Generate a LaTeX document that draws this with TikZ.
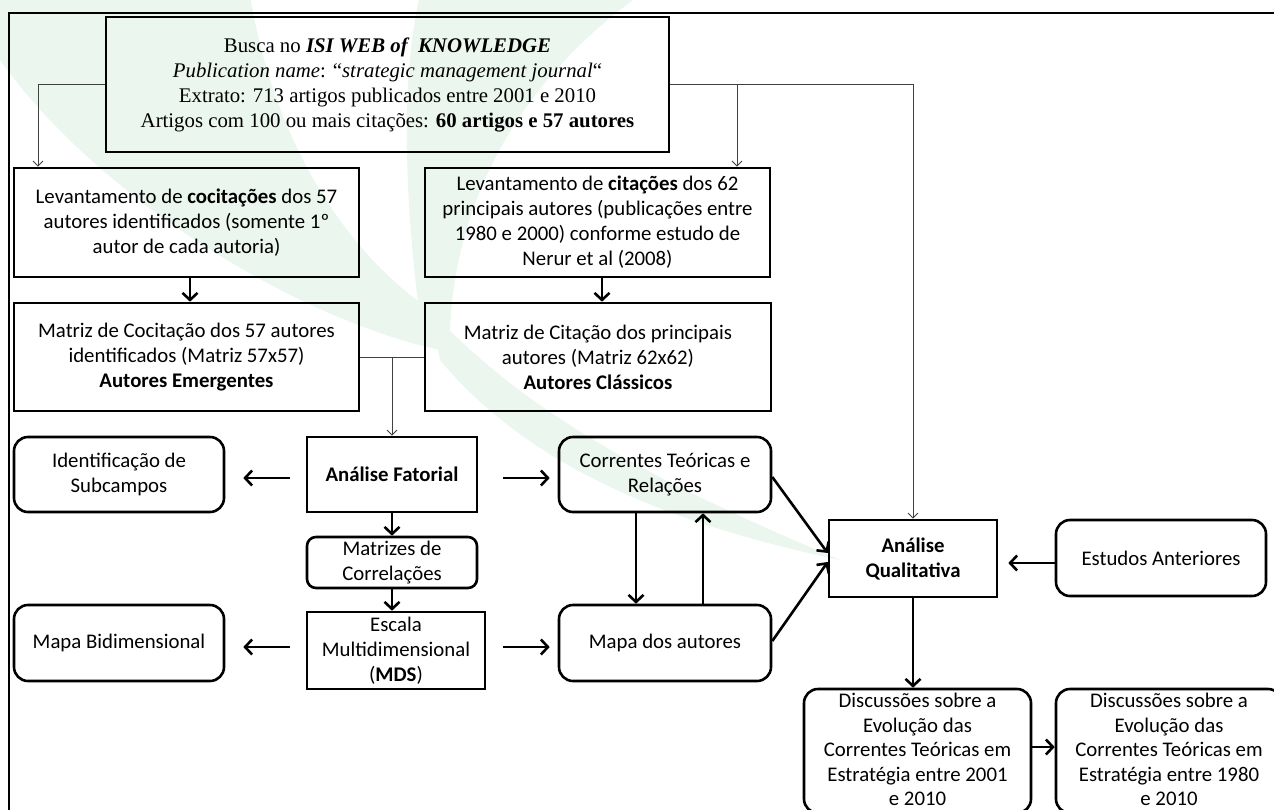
\documentclass[tikz,border=0pt]{standalone}
\usepackage{fontspec}
\setmainfont{Carlito}
\newfontfamily\tnr{Liberation Serif}
\usetikzlibrary{arrows.meta}
\newcommand\bfnt{\fontsize{20.8}{25}\selectfont}
\newcommand\tfnt{\tnr\fontsize{20.8}{25}\selectfont}
\definecolor{wm}{HTML}{EBF6EF}
\begin{document}
\begin{tikzpicture}[x=1pt,y=-1pt,
  bx/.style={draw, line width=2.6pt, inner sep=0pt, align=center, font=\bfnt},
  sq/.style={bx},
  rd/.style={bx, rounded corners=14pt},
  thinln/.style={line width=0.9pt, draw=black!75},
  thinarr/.style={thinln, -{Straight Barb[length=5pt,width=10pt]}},
  thk/.style={line width=2.6pt, -{Straight Barb[length=7pt,width=15pt]}},
]
\useasboundingbox (0,0) rectangle (1274,809);
\fill[white] (0,0) rectangle (1274,809);
\clip (0,0) rectangle (1274,809);

% faint background watermark
\fill[wm] (0,-5) -- (250,-5) .. controls (270,120) and (330,240) .. (430,310)
  -- (440,350) .. controls (300,320) and (100,200) .. (0,60) -- cycle;
\fill[wm] (420,-5) -- (640,-5) .. controls (520,80) and (455,200) .. (450,330)
  -- (420,320) .. controls (405,200) and (400,80) .. (420,-5) -- cycle;
\fill[wm] (430,310) .. controls (540,430) and (700,500) .. (840,560)
  .. controls (700,530) and (540,480) .. (440,360) -- cycle;

% outer frame
\draw[line width=2.4pt] (9,830) -- (9,13) -- (1290,13);

% nodes
\node[sq, minimum width=563pt, minimum height=135pt, font=\tfnt] (top) at (387.5,84.5)
  {Busca no \textbf{\textit{ISI WEB of~ KNOWLEDGE}}\\
   \textit{Publication name}: “\textit{strategic management journal}“\\
   Extrato: 713 artigos publicados entre 2001 e 2010\\
   Artigos com 100 ou mais citações: \textbf{60 artigos e 57 autores}};
\node[sq, minimum width=345pt, minimum height=109pt] (cocit) at (186.5,222.5)
  {Levantamento de \textbf{cocitações} dos 57\\autores identificados (somente 1º\\autor de cada autoria)};
\node[sq, minimum width=345pt, minimum height=109pt] (cit) at (597.5,222.5)
  {Levantamento de \textbf{citações} dos 62\\principais autores (publicações entre\\1980 e 2000) conforme estudo de\\Nerur et al (2008)};
\node[sq, minimum width=345pt, minimum height=108pt] (mcocit) at (186.5,357)
  {Matriz de Cocitação dos 57 autores\\identificados (Matriz 57x57)\\\textbf{Autores Emergentes}};
\node[sq, minimum width=346pt, minimum height=108pt] (mcit) at (598,357)
  {Matriz de Citação dos principais\\autores (Matriz 62x62)\\\textbf{Autores Clássicos}};
\node[rd, minimum width=210pt, minimum height=75pt] (ident) at (119,474.5) {Identificação de\\Subcampos};
\node[sq, minimum width=170pt, minimum height=75pt] (fat) at (392,474.5) {\textbf{Análise Fatorial}};
\node[rd, minimum width=212pt, minimum height=75pt] (corr) at (665,474.5) {Correntes Teóricas e\\Relações};
\node[rd, rounded corners=9pt, minimum width=170pt, minimum height=51pt] (matc) at (392,562.5) {Matrizes de\\Correlações};
\node[sq, minimum width=178pt, minimum height=77pt] (mds) at (396,650.5) {Escala\\Multidimensional\\(\textbf{MDS})};
\node[rd, minimum width=210pt, minimum height=76pt] (bidim) at (119,643) {Mapa Bidimensional};
\node[rd, minimum width=212pt, minimum height=76pt] (mapa) at (665,643) {Mapa dos autores};
\node[sq, minimum width=168pt, minimum height=77pt] (qual) at (913,558.5) {\textbf{Análise}\\\textbf{Qualitativa}};
\node[rd, minimum width=210pt, minimum height=76pt] (est) at (1161,558) {Estudos Anteriores};
\node[rd, minimum width=227pt, minimum height=124pt, text depth=3pt, font=\fontsize{20.8}{24.6}\selectfont] (d1) at (917.5,751)
  {Discussões sobre a\\Evolução das\\Correntes Teóricas em\\Estratégia entre 2001\\e 2010};
\node[rd, minimum width=226pt, minimum height=124pt, text depth=3pt, font=\fontsize{20.8}{24.6}\selectfont] (d2) at (1169,751)
  {Discussões sobre a\\Evolução das\\Correntes Teóricas em\\Estratégia entre 1980\\e 2010};

% thin connectors
\coordinate (lb) at (38,84.5);
\coordinate (cb) at (737,84.5);
\coordinate (mj) at (392,357);
\draw[thinarr] (top.west) -- (lb) -- (lb |- cocit.north);
\draw[thinarr] (top.east) -| (qual.north);
\draw[thinarr] (cb) -- (cb |- cit.north);
\draw[thinln] (mcocit.east) -- (mcit.west);
\draw[thinarr] (mj) -- (fat.north);

% thick connectors
\draw[thk] ([xshift=3.5pt]cocit.south) -- ([xshift=3.5pt]mcocit.north);
\draw[thk] ([xshift=4.5pt]cit.south) -- ([xshift=4.5pt]cit.south |- mcit.north);
\draw[thk, shorten <=16pt, shorten >=18pt] ([yshift=-3.5pt]fat.west) -- ([yshift=-3.5pt]fat.west -| ident.east);
\draw[thk, shorten <=25pt, shorten >=8pt] ([yshift=-3.5pt]fat.east) -- ([yshift=-3.5pt]fat.east -| corr.west);
\draw[thk] (fat.south) -- (matc.north);
\draw[thk] (matc.south) -- (matc.south |- mds.north);
\draw[thk, shorten <=16pt, shorten >=18pt] ([yshift=3.5pt]mds.west) -- ([yshift=3.5pt]mds.west -| bidim.east);
\draw[thk, shorten <=17pt, shorten >=8pt] ([yshift=3.5pt]mds.east) -- ([yshift=3.5pt]mds.east -| mapa.west);
\draw[thk] ([xshift=-29pt]corr.south) -- ([xshift=-29pt]mapa.north);
\draw[thk] ([xshift=38pt]mapa.north) -- ([xshift=38pt]corr.south);
\draw[thk] ([yshift=-2.5pt]corr.east) -- ([yshift=5.5pt]qual.west);
\draw[thk] ([yshift=2pt]mapa.east) -- ([yshift=-3.5pt]qual.west);
\draw[thk, shorten >=10pt] ([yshift=-5pt]est.west) -- ([yshift=-5pt]est.west -| qual.east);
\draw[thk] (qual.south) -- (qual.south |- d1.north);
\draw[thk] ([yshift=4pt]d1.east) -- ([yshift=4pt]d2.west);
\end{tikzpicture}
\end{document}
